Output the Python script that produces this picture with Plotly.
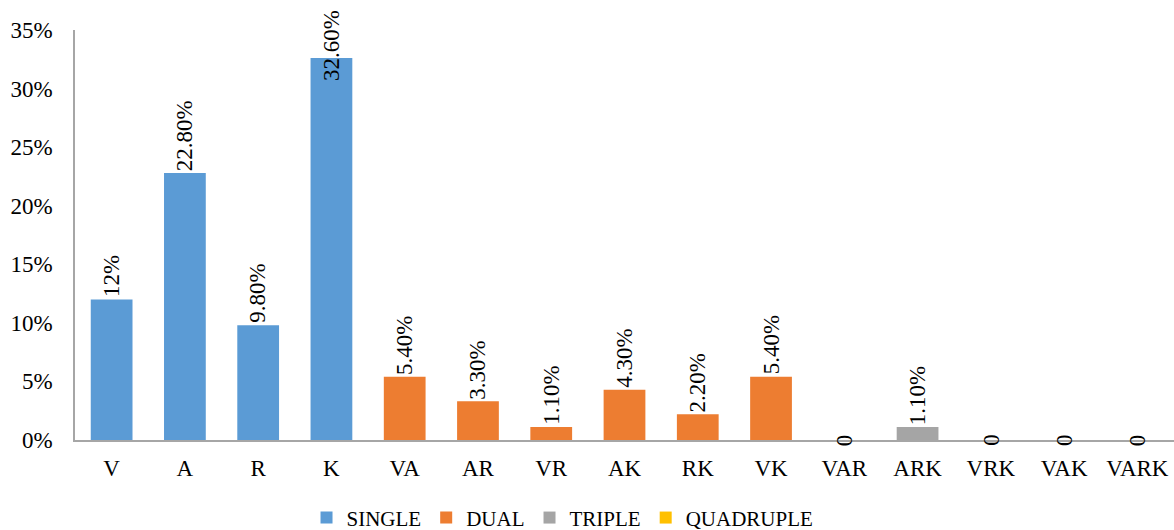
import plotly.graph_objects as go

categories = ["V", "A", "R", "K", "VA", "AR", "VR", "AK", "RK", "VK", "VAR", "ARK", "VRK", "VAK", "VARK"]
groups = ["SINGLE"] * 4 + ["DUAL"] * 6 + ["TRIPLE"] * 4 + ["QUADRUPLE"]
values = [12, 22.8, 9.8, 32.6, 5.4, 3.3, 1.1, 4.3, 2.2, 5.4, 0, 1.1, 0, 0, 0]
value_labels = ["12%", "22.80%", "9.80%", "32.60%", "5.40%", "3.30%", "1.10%", "4.30%",
                "2.20%", "5.40%", "0", "1.10%", "0", "0", "0"]
group_names = ["SINGLE", "DUAL", "TRIPLE", "QUADRUPLE"]
group_colors = {"SINGLE": "#5B9BD5", "DUAL": "#ED7D31", "TRIPLE": "#A5A5A5", "QUADRUPLE": "#FFC000"}
y_ticks = [0, 5, 10, 15, 20, 25, 30, 35]
y_tick_labels = ["0%", "5%", "10%", "15%", "20%", "25%", "30%", "35%"]

FONT = "Liberation Serif, Times New Roman, serif"
FS = 23

fig = go.Figure()
for g in group_names:
    xs = [c for c, gg in zip(categories, groups) if gg == g]
    ys = [v for v, gg in zip(values, groups) if gg == g]
    fig.add_trace(go.Bar(x=xs, y=ys, name=g, marker=dict(color=group_colors[g], line=dict(width=0)),
                         width=0.57))

ymax = max(values)
for c, v, t in zip(categories, values, value_labels):
    if v == 0:
        anchor, shift = "middle", 0
    elif v == ymax:
        anchor, shift = "bottom", -25
    else:
        anchor, shift = "bottom", 0
    fig.add_annotation(x=c, y=v, text=t, textangle=-90, showarrow=False,
                       yanchor=anchor, xanchor="center", yshift=shift,
                       font=dict(family=FONT, size=FS, color="black"))

fig.update_layout(
    width=1174, height=530,
    margin=dict(l=75, r=0, t=30, b=90, autoexpand=False),
    paper_bgcolor="white", plot_bgcolor="white",
    barmode="overlay",
    font=dict(family=FONT, size=FS, color="black"),
    showlegend=True,
    legend=dict(orientation="h", x=0.4436, xanchor="center", y=-0.19, yanchor="middle",
                font=dict(family=FONT, size=21, color="black"), itemwidth=30,
                tracegroupgap=0),
)
fig.update_xaxes(categoryorder="array", categoryarray=categories,
                 showline=True, linecolor="#A6A6A6", linewidth=1.5,
                 showgrid=False, ticks="outside", ticklen=7, tickcolor="rgba(0,0,0,0)",
                 tickfont=dict(family=FONT, size=FS, color="black"))
fig.update_yaxes(range=[0, 35], tickvals=y_ticks, ticktext=y_tick_labels,
                 showline=True, linecolor="#A6A6A6", linewidth=1.5,
                 showgrid=False, zeroline=False, ticks="outside", ticklen=16,
                 tickcolor="rgba(0,0,0,0)",
                 tickfont=dict(family=FONT, size=FS, color="black"))

fig.write_html("out.html")
